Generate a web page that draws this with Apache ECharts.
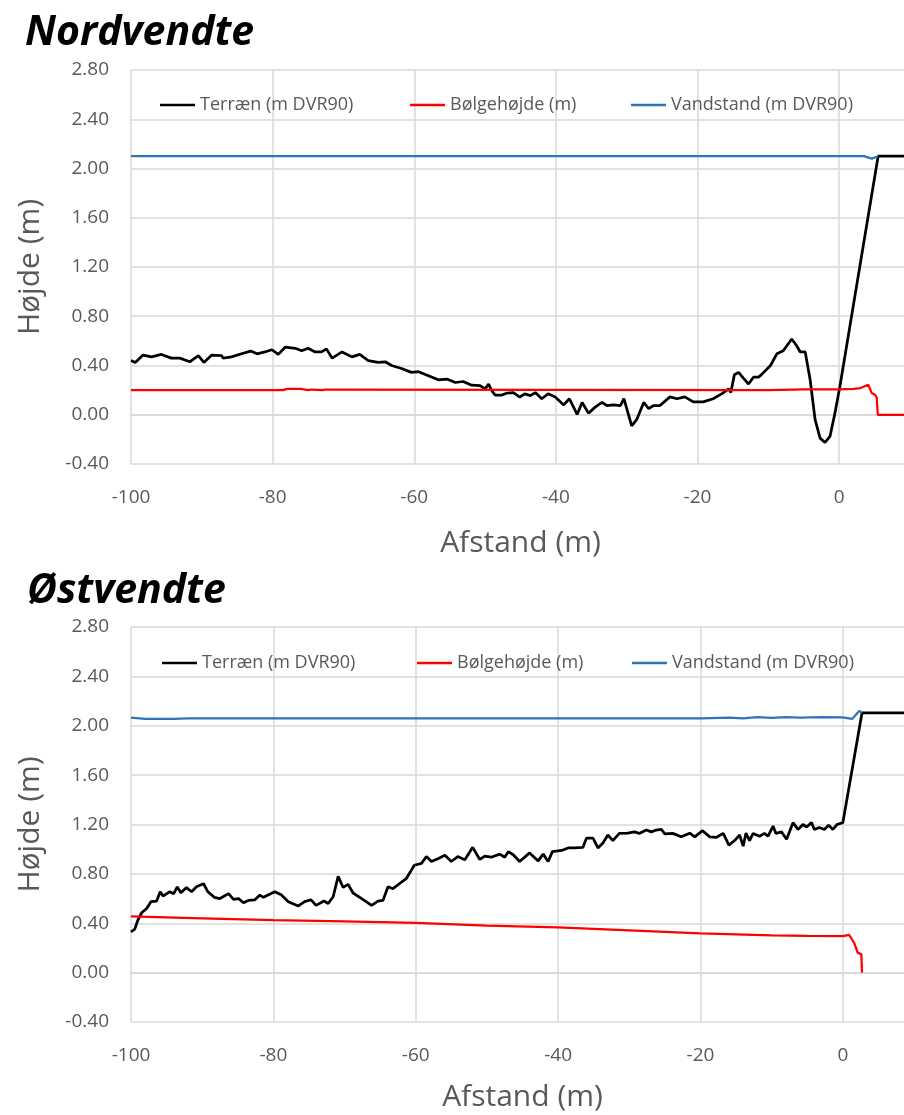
<!DOCTYPE html>
<html>
<head>
<meta charset="utf-8">
<script src="https://cdn.jsdelivr.net/npm/echarts@6/dist/echarts.min.js"></script>
<style>
html, body { margin: 0; padding: 0; background: #fff; overflow: hidden; }
#chart { width: 1000px; height: 1115px; }
</style>
</head>
<body>
<div id="chart"></div>
<script>
// Nordvendte
var nordTerrainX = [-100, -99.4, -98.3, -97.1, -95.7, -94.3, -93.1, -91.7, -90.5, -89.7, -88.6, -87.2, -87.0, -85.8, -84.4, -83.1, -82.2, -81.1, -80.1, -79.2, -78.2, -76.8, -75.9, -75.0, -74.0, -73.1, -72.4, -71.6, -70.2, -68.8, -67.7, -66.5, -65.1, -64.1, -63.2, -61.8, -60.4, -59.4, -58.0, -56.6, -55.4, -54.2, -53.1, -51.9,
    -50.7, -50.0, -49.5, -49.1, -48.6, -47.6, -46.9, -46.0, -45.1, -44.4, -43.6, -42.9, -42.0, -41.1, -40.1, -38.9, -38.1, -37.0, -36.3, -35.4, -34.5, -33.5, -32.8, -31.9, -30.9, -30.4, -29.3, -28.6, -27.6, -26.9, -26.2, -25.3, -23.9, -22.9, -21.8, -20.6, -19.2, -17.8, -16.6, -15.6, -15.3, -14.8, -14.2, -13.5, -12.8, -12.1, -11.4, -10.9, -9.7, -8.8, -7.9, -6.7, -6.0, -5.5, -4.8, -4.1, -3.4, -2.7, -2.0, -1.3, -0.6, 0.1, 1.6, 5.5, 20];
var nordTerrainY = [0.44, 0.425, 0.485, 0.47, 0.49, 0.46, 0.46, 0.43, 0.48, 0.425, 0.485, 0.48, 0.46, 0.47, 0.495, 0.517, 0.495, 0.51, 0.528, 0.49, 0.55, 0.54, 0.52, 0.54, 0.51, 0.51, 0.535, 0.46, 0.51, 0.47, 0.49, 0.44, 0.425, 0.43, 0.40, 0.376, 0.344, 0.35, 0.317, 0.284, 0.29, 0.262, 0.27, 0.24,
    0.236, 0.21, 0.25, 0.20, 0.16, 0.16, 0.176, 0.18, 0.144, 0.17, 0.155, 0.18, 0.13, 0.17, 0.145, 0.08, 0.13, 0.003, 0.10, 0.013, 0.06, 0.10, 0.075, 0.08, 0.075, 0.13, -0.09, -0.04, 0.10, 0.05, 0.075, 0.075, 0.145, 0.13, 0.145, 0.105, 0.105, 0.13, 0.17, 0.21, 0.18, 0.325, 0.344, 0.295, 0.25, 0.305, 0.305, 0.33, 0.40, 0.495, 0.52, 0.615, 0.56, 0.51, 0.51, 0.284, -0.04, -0.19, -0.225, -0.176, 0.013, 0.23, 0.75, 2.10, 2.10];
var nordWaveX = [-100, -78.5, -78, -76, -75, -74.5, -73, -72.5, -10, -5, 0, 2, 3, 4.1, 4.6, 5.1, 5.3, 5.45, 20];
var nordWaveY = [0.20, 0.20, 0.21, 0.21, 0.20, 0.205, 0.20, 0.205, 0.20, 0.207, 0.207, 0.21, 0.217, 0.244, 0.176, 0.16, 0.14, 0.0, 0.0];
var nordWaterX = [-100, 3.5, 4.6, 5.5];
var nordWaterY = [2.10, 2.10, 2.08, 2.10];

// Østvendte
var oestTerrainX = [-100, -99.5, -99.0, -98.5, -97.8, -97.2, -96.4, -95.9, -95.5, -94.6, -94.0, -93.5, -93.0, -92.2, -91.5, -90.8, -89.8, -89.2, -88.3, -87.5, -86.3, -85.6, -84.9, -84.2, -83.5, -82.6, -81.9, -81.4, -79.8, -78.9, -77.9, -76.5, -75.6, -74.7, -74.0, -72.9, -72.3, -71.6, -70.9, -70.2, -69.5, -68.8, -67.6, -66.2, -65.3, -64.6, -63.9, -63.2, -62.3, -61.3, -60.2, -59.2, -58.5, -57.8, -56.8, -55.9, -55.0, -54.1, -53.1, -52.0,
    -51.0, -50.3, -49.4, -48.2, -47.5, -47.0, -46.3, -45.4, -44.0, -42.8, -42.1, -41.4, -40.8, -39.5, -38.6, -37.7, -36.5, -36.0, -35.1, -34.4, -33.7, -33.0, -32.3, -31.4, -30.2, -29.3, -28.6, -27.6, -26.9, -26.2, -25.5, -25.0, -23.9, -22.7, -21.5, -20.8, -19.7, -18.7, -17.8, -16.8, -16.0, -15.2, -14.5, -14.0, -13.6, -13.1, -12.6, -11.7, -11.0, -10.5, -9.8, -9.4, -8.6, -7.9, -7.0, -6.3, -5.6, -5.1, -4.4, -4.0, -3.3, -2.6, -2.0, -1.4, -0.8, 0.0, 2.7, 20];
var oestTerrainY = [0.33, 0.35, 0.43, 0.485, 0.52, 0.575, 0.58, 0.655, 0.62, 0.655, 0.64, 0.695, 0.647, 0.69, 0.655, 0.695, 0.72, 0.655, 0.61, 0.60, 0.64, 0.593, 0.60, 0.566, 0.585, 0.59, 0.628, 0.61, 0.655, 0.63, 0.575, 0.54, 0.575, 0.59, 0.545, 0.58, 0.56, 0.615, 0.78, 0.69, 0.715, 0.645, 0.60, 0.545, 0.58, 0.585, 0.695, 0.68, 0.72, 0.764, 0.87, 0.885, 0.94, 0.90, 0.925, 0.95, 0.90, 0.94, 0.915, 1.015,
    0.917, 0.944, 0.935, 0.96, 0.935, 0.98, 0.955, 0.90, 0.97, 0.905, 0.96, 0.90, 0.98, 0.99, 1.01, 1.01, 1.015, 1.09, 1.09, 1.01, 1.05, 1.115, 1.07, 1.128, 1.13, 1.14, 1.128, 1.155, 1.14, 1.155, 1.16, 1.125, 1.128, 1.10, 1.13, 1.10, 1.15, 1.10, 1.095, 1.128, 1.033, 1.07, 1.115, 1.025, 1.13, 1.07, 1.128, 1.105, 1.128, 1.105, 1.187, 1.128, 1.14, 1.08, 1.215, 1.16, 1.20, 1.18, 1.215, 1.16, 1.175, 1.16, 1.195, 1.16, 1.20, 1.215, 2.105, 2.105];
var oestWaveX = [-100, -90, -80, -70, -60, -50, -40, -30, -20, -10, -5, 0, 0.9, 1.6, 2.1, 2.6, 2.7];
var oestWaveY = [0.455, 0.44, 0.425, 0.415, 0.403, 0.38, 0.366, 0.342, 0.318, 0.302, 0.298, 0.296, 0.305, 0.24, 0.16, 0.15, 0.0];
var oestWaterX = [-100, -98, -94, -92, -20, -16, -14, -12, -10, -8, -6, -3, 0, 1.3, 2.3, 2.7];
var oestWaterY = [2.065, 2.055, 2.055, 2.06, 2.06, 2.065, 2.06, 2.07, 2.063, 2.07, 2.065, 2.07, 2.068, 2.055, 2.12, 2.105];

var seriesNames = ['Terræn (m DVR90)', 'Bølgehøjde (m)', 'Vandstand (m DVR90)'];
var seriesColors = ['#000000', '#ff0000', '#2e75b6'];
var xTicks = [-100, 10, 20];   // min, max, interval
var yTicks = [-0.4, 2.8, 0.4];

var txt = '#595959';
var gridCol = '#d9d9d9';
var fnt = '"Open Sans", "Noto Sans", sans-serif';

function zip(xs, ys) {
    var out = [];
    for (var i = 0; i < xs.length; i++) out.push([xs[i], ys[i]]);
    return out;
}

function makeX(idx, gap) {
    return {
	type: 'value', gridIndex: idx,
	min: xTicks[0], max: xTicks[1], interval: xTicks[2],
	name: 'Afstand (m)', nameLocation: 'middle', nameGap: gap,
	nameTextStyle: { color: txt, fontSize: 30, fontFamily: fnt },
	axisLine: { show: true, lineStyle: { color: gridCol, width: 1.5 } },
	axisTick: { show: false },
	axisLabel: { color: txt, fontSize: 19, fontFamily: fnt, margin: 24, showMaxLabel: false },
	splitLine: { show: true, lineStyle: { color: gridCol, width: 1.5 } }
    };
}
function makeY(idx) {
    return {
	type: 'value', gridIndex: idx,
	min: yTicks[0], max: yTicks[1], interval: yTicks[2],
	name: 'Højde (m)', nameLocation: 'middle', nameGap: 86, nameRotate: 90,
	nameTextStyle: { color: txt, fontSize: 30, fontFamily: fnt },
	axisLine: { show: false },
	axisTick: { show: false },
	axisLabel: { color: txt, fontSize: 19, fontFamily: fnt, margin: 22,
	    formatter: function (v) { return v.toFixed(2); } },
	splitLine: { show: true, lineStyle: { color: gridCol, width: 1.5 } }
    };
}
function makeSeries(idx, name, color, data, width) {
    return {
	type: 'line', name: name, xAxisIndex: idx, yAxisIndex: idx,
	data: data, symbol: 'none', silent: true,
	lineStyle: { color: color, width: width },
	itemStyle: { color: color }
    };
}
function makeLegends(top, lefts) {
    var out = [];
    for (var i = 0; i < 3; i++) {
	out.push({
	    data: [{ name: seriesNames[i] }],
	    left: lefts[i], top: top,
	    icon: 'rect', itemWidth: 35, itemHeight: 2.5,
	    textStyle: { color: txt, fontSize: 18, fontFamily: fnt },
	    selectedMode: false
	});
    }
    return out;
}

var option = {
    animation: false,
    title: [
	{ text: 'Nordvendte', left: 20, top: 8,
	  textStyle: { fontSize: 41, fontWeight: 'bold', fontStyle: 'italic', color: '#000', fontFamily: fnt } },
	{ text: 'Østvendte', left: 22, top: 566,
	  textStyle: { fontSize: 41, fontWeight: 'bold', fontStyle: 'italic', color: '#000', fontFamily: fnt } }
    ],
    legend: makeLegends(91, [155, 405, 626]).concat(makeLegends(649, [157, 412, 627])),
    grid: [
	{ left: 131, top: 70, width: 779, height: 394 },
	{ left: 131, top: 627, width: 783, height: 395 }
    ],
    xAxis: [makeX(0, 64), makeX(1, 60)],
    yAxis: [makeY(0), makeY(1)],
    series: [
	makeSeries(0, seriesNames[0], seriesColors[0], zip(nordTerrainX, nordTerrainY), 2.75),
	makeSeries(0, seriesNames[1], seriesColors[1], zip(nordWaveX, nordWaveY), 2.25),
	makeSeries(0, seriesNames[2], seriesColors[2], zip(nordWaterX, nordWaterY), 2.25),
	makeSeries(1, seriesNames[0], seriesColors[0], zip(oestTerrainX, oestTerrainY), 2.75),
	makeSeries(1, seriesNames[1], seriesColors[1], zip(oestWaveX, oestWaveY), 2.25),
	makeSeries(1, seriesNames[2], seriesColors[2], zip(oestWaterX, oestWaterY), 2.25)
    ]
};

var chart = echarts.init(document.getElementById('chart'), null, { renderer: 'canvas' });
chart.setOption(option);
</script>
</body>
</html>
